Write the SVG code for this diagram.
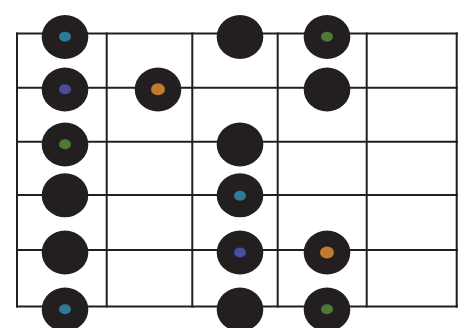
<svg xmlns="http://www.w3.org/2000/svg" width="466" height="328" viewBox="0 0 466 328">
<style>
.ln{stroke:#231f20;stroke-width:2;fill:none;stroke-linecap:square}
.n{fill:#231f20}
.teal{fill:#2e7b95}
.purple{fill:#4b4c9e}
.orange{fill:#c27a2c}
.green{fill:#4e7a35}
</style>
<rect width="466" height="328" fill="#ffffff"/>
<g id="connectors">
<path class="ln" d="M17 33.5H457M17 87.7H457M17 141.7H457M17 195H457M17 250H457M17 306.5H457"/>
<path class="ln" d="M17 33.5V306.5M106.7 33.5V306.5M192.3 33.5V306.5M277.7 33.5V306.5M366.7 33.5V306.5M456.7 33.5V306.5"/>
</g>
<g id="n1"><ellipse class="n" cx="65" cy="37" rx="23.3" ry="22"/><ellipse class="teal" cx="65" cy="36.7" rx="6" ry="5"/></g>
<g id="n2"><ellipse class="n" cx="240" cy="37" rx="23.3" ry="22"/></g>
<g id="n3"><ellipse class="n" cx="327" cy="37" rx="23.3" ry="22"/><ellipse class="green" cx="327" cy="36.7" rx="6" ry="5"/></g>
<g id="n4"><ellipse class="n" cx="65" cy="89.5" rx="23.3" ry="22"/><ellipse class="purple" cx="65" cy="89.3" rx="6" ry="5"/></g>
<g id="n5"><ellipse class="n" cx="158" cy="89.5" rx="23.3" ry="22"/><ellipse class="orange" cx="158" cy="89.3" rx="7" ry="6"/></g>
<g id="n6"><ellipse class="n" cx="327" cy="89.5" rx="23.3" ry="22"/></g>
<g id="n7"><ellipse class="n" cx="65" cy="144.5" rx="23.3" ry="22"/><ellipse class="green" cx="65" cy="144.3" rx="6" ry="5"/></g>
<g id="n8"><ellipse class="n" cx="240" cy="144.5" rx="23.3" ry="22"/></g>
<g id="n9"><ellipse class="n" cx="65" cy="195.3" rx="23.3" ry="22"/></g>
<g id="n10"><ellipse class="n" cx="240" cy="195.3" rx="23.3" ry="22"/><ellipse class="teal" cx="240" cy="195.8" rx="6" ry="5"/></g>
<g id="n11"><ellipse class="n" cx="65" cy="252.5" rx="23.3" ry="22"/></g>
<g id="n12"><ellipse class="n" cx="240" cy="252.5" rx="23.3" ry="22"/><ellipse class="purple" cx="240" cy="252.5" rx="6" ry="5"/></g>
<g id="n13"><ellipse class="n" cx="327" cy="252.5" rx="23.3" ry="22"/><ellipse class="orange" cx="327" cy="252.5" rx="7" ry="6"/></g>
<g id="n14"><ellipse class="n" cx="65" cy="309.5" rx="23.3" ry="22"/><ellipse class="teal" cx="65" cy="309.3" rx="6" ry="5"/></g>
<g id="n15"><ellipse class="n" cx="240" cy="309.5" rx="23.3" ry="22"/></g>
<g id="n16"><ellipse class="n" cx="327" cy="309.5" rx="23.3" ry="22"/><ellipse class="green" cx="327" cy="309.3" rx="6" ry="5"/></g>
</svg>
